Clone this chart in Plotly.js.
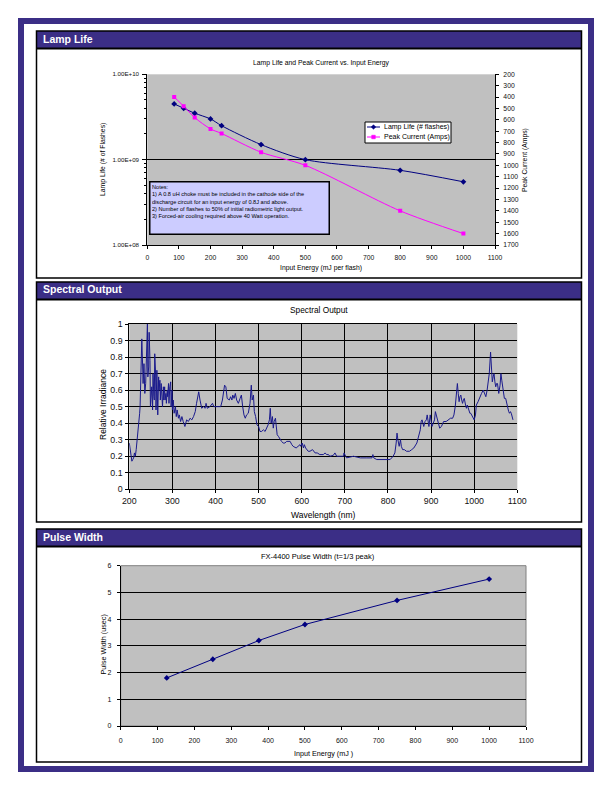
<!DOCTYPE html>
<html>
<head>
<meta charset="utf-8">
<script src="https://cdn.plot.ly/plotly-3.0.1.min.js"></script>
<style>
  html, body { margin: 0; padding: 0; background: #ffffff; }
  #chart { width: 612px; height: 792px; }
</style>
</head>
<body>
<div id="chart"></div>
<script>
// ---------------- DATA ----------------
// Lamp Life and Peak Current vs. Input Energy
const lampEnergy = [85, 115, 150, 200, 235, 360, 500, 800, 1000];
const lampLife = [4.5e9, 4.0e9, 3.5e9, 3.0e9, 2.5e9, 1.5e9, 1.0e9, 7.5e8, 5.5e8];
const peakCurrent = [400, 480, 580, 680, 720, 885, 1000, 1400, 1600];
const seriesNames = ['Lamp Life (# flashes)', 'Peak Current (Amps)'];
const lampLifeTicks = [1e8, 1e9, 1e10];
const lampLifeTickText = ['1.00E+08', '1.00E+09', '1.00E+10'];
const notesLines = [
  'Notes:',
  '1) A 0.8 uH choke must be included in the cathode side of the',
  'discharge circuit for an input energy of 0.8J and above.',
  '2) Number of flashes to 50% of initial radiometric light output.',
  '3) Forced-air cooling required above 40 Watt operation.'
];

// Spectral Output
const wavelength = [
  200,202,204,206,208,210,212,214,216,218,
  220,222,224,225,227,229,231,232,234,236,
  238,240,242,243,245,246,248,249,251,252,
  254,255,257,258,259,261,262,264,266,268,
  269,271,272,274,276,277,279,280,282,283,
  285,286,288,289,291,292,294,296,297,299,
  300,302,304,307,309,311,314,316,319,322,
  325,329,333,337,341,345,349,353,356,361,
  364,368,372,376,378,381,387,393,396,401,
  407,412,416,421,424,427,432,435,438,440,
  443,446,449,453,457,460,463,466,469,472,
  476,480,483,485,488,490,493,496,500,503,
  507,511,515,519,522,525,527,529,532,534,
  536,539,541,543,546,550,553,557,561,565,
  569,573,577,580,587,592,596,598,601,604,
  606,609,612,615,619,625,631,636,642,650,
  654,658,662,665,673,677,681,689,697,698,
  701,704,720,736,751,763,765,767,774,789,
  800,805,812,816,819,821,823,826,829,831,
  834,838,843,850,855,860,867,872,875,877,
  879,881,883,886,889,891,893,895,898,900,
  902,905,908,910,912,914,917,920,924,929,
  935,940,945,950,953,956,959,961,963,965,
  967,969,971,973,975,977,980,982,984,987,
  990,992,996,1000,1003,1005,1009,1013,1017,1021,
  1024,1027,1030,1032,1035,1038,1040,1042,1044,1046,
  1048,1050,1052,1054,1056,1057,1060,1062,1064,1066,
  1068,1070,1073,1075,1077,1080,1082,1084,1086,1088,
  1090
];
const irradiance = [
  0.28,0.23,0.18,0.17,0.18,0.19,0.22,0.20,0.24,0.29,
  0.35,0.37,0.46,0.50,0.76,0.91,0.74,0.64,0.76,0.58,
  0.64,0.84,1.00,0.68,0.74,0.95,0.78,0.50,0.60,0.62,
  0.48,0.70,0.56,0.54,0.82,0.70,0.48,0.72,0.45,0.68,
  0.60,0.66,0.54,0.64,0.56,0.50,0.62,0.54,0.62,0.54,
  0.58,0.52,0.60,0.56,0.64,0.52,0.62,0.65,0.50,0.60,
  0.48,0.54,0.46,0.50,0.44,0.48,0.43,0.45,0.41,0.44,
  0.41,0.38,0.42,0.41,0.43,0.42,0.44,0.47,0.52,0.59,
  0.54,0.49,0.50,0.49,0.52,0.49,0.50,0.52,0.50,0.50,
  0.50,0.50,0.54,0.63,0.62,0.55,0.54,0.56,0.54,0.57,
  0.55,0.58,0.54,0.52,0.55,0.57,0.50,0.45,0.43,0.45,
  0.46,0.52,0.63,0.54,0.57,0.47,0.44,0.39,0.38,0.35,
  0.35,0.36,0.35,0.37,0.39,0.42,0.49,0.40,0.44,0.37,
  0.41,0.43,0.36,0.33,0.32,0.30,0.29,0.28,0.28,0.29,
  0.29,0.29,0.27,0.26,0.25,0.26,0.27,0.26,0.28,0.25,
  0.27,0.25,0.24,0.23,0.23,0.24,0.22,0.22,0.21,0.21,
  0.22,0.21,0.21,0.20,0.205,0.22,0.20,0.20,0.20,0.22,
  0.20,0.19,0.20,0.19,0.19,0.19,0.21,0.19,0.18,0.18,
  0.18,0.18,0.20,0.22,0.28,0.34,0.30,0.26,0.30,0.26,
  0.24,0.24,0.23,0.23,0.24,0.25,0.28,0.33,0.36,0.41,
  0.42,0.40,0.38,0.41,0.42,0.45,0.40,0.38,0.45,0.40,
  0.38,0.40,0.42,0.47,0.45,0.42,0.39,0.37,0.38,0.41,
  0.41,0.42,0.43,0.43,0.45,0.50,0.58,0.64,0.58,0.53,
  0.56,0.57,0.54,0.52,0.54,0.55,0.51,0.49,0.51,0.48,
  0.46,0.46,0.44,0.42,0.45,0.51,0.53,0.56,0.58,0.60,
  0.58,0.56,0.60,0.65,0.70,0.83,0.72,0.65,0.68,0.70,
  0.65,0.62,0.64,0.64,0.60,0.58,0.63,0.70,0.66,0.62,
  0.58,0.55,0.55,0.52,0.49,0.47,0.46,0.47,0.46,0.44,
  0.42
];

// Pulse Width
const pulseEnergy = [125, 250, 375, 500, 750, 1000];
const pulseWidth = [1.8, 2.5, 3.2, 3.8, 4.7, 5.5];

// Panel headings
const panelTitles = ['Lamp Life', 'Spectral Output', 'Pulse Width'];

// ---------------- LAYOUT HELPERS ----------------
const W = 612, H = 792;
const PX = p => p / W;
const PY = p => 1 - p / H;
const FONT = 'Liberation Sans, Arial, Helvetica, sans-serif';
const PURPLE = '#3b2e86';
const NAVY = '#000080';
const MAGENTA = '#ff00ff';

// minor log ticks on the lamp-life axis
const minorLog = [];
[1e8, 1e9].forEach(d => { for (let k = 2; k <= 9; k++) minorLog.push(k * d); });

const panels = [
  {top: 31, head: 48, bottom: 278},
  {top: 282, head: 299, bottom: 522},
  {top: 529, head: 546, bottom: 762}
];

const shapes = [];
// outer purple frame
shapes.push({type: 'rect', xref: 'paper', yref: 'paper',
  x0: PX(21), x1: PX(591), y0: PY(769), y1: PY(21),
  line: {color: PURPLE, width: 6}, fillcolor: 'rgba(0,0,0,0)'});
panels.forEach(p => {
  shapes.push({type: 'rect', xref: 'paper', yref: 'paper',
    x0: PX(36.5), x1: PX(581.5), y0: PY(p.head), y1: PY(p.top),
    line: {width: 0}, fillcolor: PURPLE});
  shapes.push({type: 'line', xref: 'paper', yref: 'paper',
    x0: PX(36.5), x1: PX(581.5), y0: PY(p.head + 0.5), y1: PY(p.head + 0.5),
    line: {color: '#000000', width: 2}});
  shapes.push({type: 'rect', xref: 'paper', yref: 'paper',
    x0: PX(36.5), x1: PX(581.5), y0: PY(p.bottom), y1: PY(p.top),
    line: {color: '#000000', width: 1.5}, fillcolor: 'rgba(0,0,0,0)'});
});
// grey border of the pulse-width plot area
shapes.push({type: 'rect', xref: 'x3 domain', yref: 'y4 domain',
  x0: 0, x1: 1, y0: 0, y1: 1, layer: 'below',
  line: {color: '#808080', width: 1}, fillcolor: 'rgba(0,0,0,0)'});

// compact legend box for the lamp-life chart (Excel style)
const LEG = {x0: 365, x1: 451, y0: 122, y1: 143, rows: [127, 137]};
shapes.push({type: 'rect', xref: 'paper', yref: 'paper',
  x0: PX(LEG.x0), x1: PX(LEG.x1), y0: PY(LEG.y1), y1: PY(LEG.y0),
  line: {color: '#000000', width: 1}, fillcolor: '#ffffff'});
const legColors = [NAVY, MAGENTA];
LEG.rows.forEach((ry, i) => {
  shapes.push({type: 'line', xref: 'paper', yref: 'paper',
    x0: PX(367), x1: PX(380), y0: PY(ry), y1: PY(ry),
    line: {color: legColors[i], width: 1}});
});
// legend symbols: diamond and square
const cx = 373.5, r = 2.3;
shapes.push({type: 'path', xref: 'paper', yref: 'paper',
  path: `M ${PX(cx - r)} ${PY(LEG.rows[0])} L ${PX(cx)} ${PY(LEG.rows[0] - r)} L ${PX(cx + r)} ${PY(LEG.rows[0])} L ${PX(cx)} ${PY(LEG.rows[0] + r)} Z`,
  line: {color: NAVY, width: 0.5}, fillcolor: NAVY});
shapes.push({type: 'rect', xref: 'paper', yref: 'paper',
  x0: PX(cx - 1.8), x1: PX(cx + 1.8), y0: PY(LEG.rows[1] + 1.8), y1: PY(LEG.rows[1] - 1.8),
  line: {color: MAGENTA, width: 0.5}, fillcolor: MAGENTA});

const ann = [];
const txt = (text, x, y, size, opts) => Object.assign({
  text: text, xref: 'paper', yref: 'paper', x: PX(x), y: PY(y),
  xanchor: 'center', yanchor: 'middle', showarrow: false,
  font: {family: FONT, size: size, color: '#000000'}
}, opts || {});

// panel headings
[38.5, 289.5, 536.5].forEach((y, i) => {
  ann.push(txt('<b>' + panelTitles[i] + '</b>', 40.5, y, 10.5,
    {xanchor: 'left', font: {family: FONT, size: 10.5, color: '#ffffff'}}));
});
// legend texts
LEG.rows.forEach((ry, i) => {
  ann.push(txt(seriesNames[i], 381.5, ry, 7, {xanchor: 'left'}));
});
// chart 1 texts
ann.push(txt('Lamp Life and Peak Current vs. Input Energy', 321.5, 63, 6.8));
ann.push(txt('Input Energy (mJ per flash)', 321, 267.5, 6.8));
ann.push(txt('Lamp Life (# of Flashes)', 103, 160, 6.8, {textangle: -90}));
ann.push(txt('Peak Current (Amps)', 525, 160, 6.8, {textangle: -90}));
ann.push(txt(notesLines.join('<br>'), 148.5, 180.5, 5.6, {
  xanchor: 'left', yanchor: 'top', align: 'left', valign: 'top',
  width: 175, height: 48, borderpad: 1.5,
  bgcolor: '#ccccff', bordercolor: '#000000', borderwidth: 1.5
}));
// chart 2 texts
ann.push(txt('Spectral Output', 319, 310, 8.3));
ann.push(txt('Wavelength (nm)', 323, 514.5, 8.5));
ann.push(txt('Relative Irradiance', 103, 405, 8.5, {textangle: -90}));
// chart 3 texts
ann.push(txt('FX-4400 Pulse Width (t=1/3 peak)', 318, 556, 7.5));
ann.push(txt('Input Energy (mJ )', 323, 753.5, 7.2));
ann.push(txt('Pulse Width (usec)', 102.5, 644, 7.2, {textangle: -90}));

const axisBase = {
  ticks: 'outside', ticklen: 3, tickcolor: '#000000', tickwidth: 1,
  showline: true, linecolor: '#000000', linewidth: 1,
  zeroline: false, showgrid: false,
  tickfont: {family: FONT, size: 6.8, color: '#111111'}
};
const ax = o => Object.assign({}, axisBase, o);

const traces = [
  {x: lampEnergy, y: lampLife, xaxis: 'x', yaxis: 'y', type: 'scatter',
   mode: 'lines+markers', name: seriesNames[0], showlegend: false,
   line: {color: NAVY, width: 1, shape: 'spline', smoothing: 0.8},
   marker: {symbol: 'diamond', size: 4.5, color: NAVY}},
  {x: lampEnergy, y: peakCurrent, xaxis: 'x', yaxis: 'y2', type: 'scatter',
   mode: 'lines+markers', name: seriesNames[1], showlegend: false,
   line: {color: MAGENTA, width: 1, shape: 'spline', smoothing: 0.8},
   marker: {symbol: 'square', size: 4, color: MAGENTA}},
  {x: wavelength, y: irradiance, xaxis: 'x2', yaxis: 'y3', type: 'scatter',
   mode: 'lines', name: 'Spectral Output', showlegend: false,
   line: {color: '#1a1a8c', width: 1}},
  {x: pulseEnergy, y: pulseWidth, xaxis: 'x3', yaxis: 'y4', type: 'scatter',
   mode: 'lines+markers', name: 'Pulse Width', showlegend: false,
   line: {color: NAVY, width: 1},
   marker: {symbol: 'diamond', size: 4.5, color: NAVY}}
];

const layout = {
  width: W, height: H,
  margin: {l: 0, r: 0, t: 0, b: 0, pad: 0},
  paper_bgcolor: '#ffffff',
  plot_bgcolor: '#c0c0c0',
  font: {family: FONT, color: '#000000'},
  showlegend: false,
  xaxis: ax({domain: [PX(147.3), PX(495)], anchor: 'y', range: [0, 1100],
    tick0: 0, dtick: 100, ticklabelstandoff: 3}),
  yaxis: ax({domain: [PY(245), PY(74.3)], anchor: 'x', type: 'log', range: [8, 10],
    tickmode: 'array', tickvals: lampLifeTicks, ticktext: lampLifeTickText,
    ticklen: 4, showgrid: true, gridcolor: '#000000', gridwidth: 1,
    tickfont: {family: FONT, size: 6.2, color: '#111111'}, ticklabelstandoff: 2,
    minor: {tickmode: 'array', tickvals: minorLog, ticks: 'outside', ticklen: 2,
      tickcolor: '#000000', showgrid: false}}),
  yaxis2: ax({overlaying: 'y', side: 'right', anchor: 'x', range: [1700, 200],
    tick0: 200, dtick: 100, ticklen: 3, ticklabelstandoff: 3}),
  xaxis2: ax({domain: [PX(129.3), PX(517.3)], anchor: 'y3', range: [200, 1100],
    tick0: 200, dtick: 100, mirror: true, showgrid: true, gridcolor: '#000000',
    ticklen: 3, ticklabelstandoff: 0,
    tickfont: {family: FONT, size: 8.8, color: '#111111'}}),
  yaxis3: ax({domain: [PY(489.3), PY(324)], anchor: 'x2', range: [0, 1],
    tick0: 0, dtick: 0.1, showgrid: true, gridcolor: '#000000',
    ticklen: 3, ticklabelstandoff: 1,
    tickfont: {family: FONT, size: 8.8, color: '#111111'}}),
  xaxis3: ax({domain: [PX(120.7), PX(526)], anchor: 'y4', range: [0, 1100],
    tick0: 0, dtick: 100, ticklen: 3, ticklabelstandoff: 5,
    tickfont: {family: FONT, size: 7, color: '#111111'}}),
  yaxis4: ax({domain: [PY(726), PY(565.7)], anchor: 'x3', range: [0, 6],
    tick0: 0, dtick: 1, showgrid: true, gridcolor: '#000000',
    ticklen: 3, ticklabelstandoff: 4,
    tickfont: {family: FONT, size: 7, color: '#111111'}}),
  shapes: shapes,
  annotations: ann
};

Plotly.newPlot('chart', traces, layout, {staticPlot: true, displayModeBar: false});
</script>
</body>
</html>
